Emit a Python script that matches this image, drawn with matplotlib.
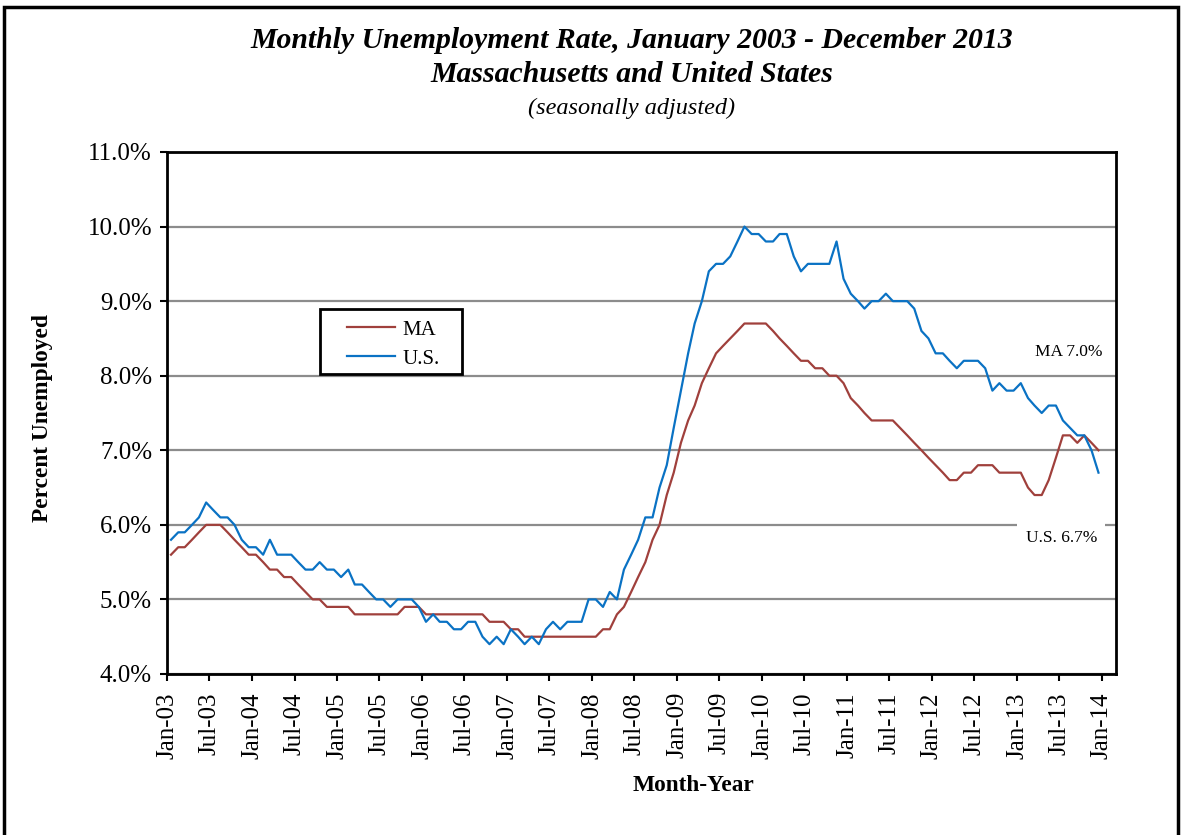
import matplotlib
matplotlib.use("Agg")
import matplotlib.pyplot as plt
import matplotlib.dates as mdates
from matplotlib.patches import Rectangle
import pandas as pd

plt.rcParams['font.family'] = ['Liberation Serif', 'DejaVu Serif']

# monthly rates, Jan 2003 - Dec 2013
ma = [5.6, 5.7, 5.7, 5.8, 5.9, 6.0, 6.0, 6.0, 5.9, 5.8, 5.7, 5.6,
      5.6, 5.5, 5.4, 5.4, 5.3, 5.3, 5.2, 5.1, 5.0, 5.0, 4.9, 4.9,
      4.9, 4.9, 4.8, 4.8, 4.8, 4.8, 4.8, 4.8, 4.8, 4.9, 4.9, 4.9,
      4.8, 4.8, 4.8, 4.8, 4.8, 4.8, 4.8, 4.8, 4.8, 4.7, 4.7, 4.7,
      4.6, 4.6, 4.5, 4.5, 4.5, 4.5, 4.5, 4.5, 4.5, 4.5, 4.5, 4.5,
      4.5, 4.6, 4.6, 4.8, 4.9, 5.1, 5.3, 5.5, 5.8, 6.0, 6.4, 6.7,
      7.1, 7.4, 7.6, 7.9, 8.1, 8.3, 8.4, 8.5, 8.6, 8.7, 8.7, 8.7,
      8.7, 8.6, 8.5, 8.4, 8.3, 8.2, 8.2, 8.1, 8.1, 8.0, 8.0, 7.9,
      7.7, 7.6, 7.5, 7.4, 7.4, 7.4, 7.4, 7.3, 7.2, 7.1, 7.0, 6.9,
      6.8, 6.7, 6.6, 6.6, 6.7, 6.7, 6.8, 6.8, 6.8, 6.7, 6.7, 6.7,
      6.7, 6.5, 6.4, 6.4, 6.6, 6.9, 7.2, 7.2, 7.1, 7.2, 7.1, 7.0]

us = [5.8, 5.9, 5.9, 6.0, 6.1, 6.3, 6.2, 6.1, 6.1, 6.0, 5.8, 5.7,
      5.7, 5.6, 5.8, 5.6, 5.6, 5.6, 5.5, 5.4, 5.4, 5.5, 5.4, 5.4,
      5.3, 5.4, 5.2, 5.2, 5.1, 5.0, 5.0, 4.9, 5.0, 5.0, 5.0, 4.9,
      4.7, 4.8, 4.7, 4.7, 4.6, 4.6, 4.7, 4.7, 4.5, 4.4, 4.5, 4.4,
      4.6, 4.5, 4.4, 4.5, 4.4, 4.6, 4.7, 4.6, 4.7, 4.7, 4.7, 5.0,
      5.0, 4.9, 5.1, 5.0, 5.4, 5.6, 5.8, 6.1, 6.1, 6.5, 6.8, 7.3,
      7.8, 8.3, 8.7, 9.0, 9.4, 9.5, 9.5, 9.6, 9.8, 10.0, 9.9, 9.9,
      9.8, 9.8, 9.9, 9.9, 9.6, 9.4, 9.5, 9.5, 9.5, 9.5, 9.8, 9.3,
      9.1, 9.0, 8.9, 9.0, 9.0, 9.1, 9.0, 9.0, 9.0, 8.9, 8.6, 8.5,
      8.3, 8.3, 8.2, 8.1, 8.2, 8.2, 8.2, 8.1, 7.8, 7.9, 7.8, 7.8,
      7.9, 7.7, 7.6, 7.5, 7.6, 7.6, 7.4, 7.3, 7.2, 7.2, 7.0, 6.7]

months = pd.date_range("2003-01-01", periods=len(ma), freq="MS") + pd.Timedelta(days=16)
ticks = pd.date_range("2003-01-01", "2014-01-01", freq="6MS")

W, H = 1182, 835
fig = plt.figure(figsize=(W / 100, H / 100), dpi=100)
ax = fig.add_axes([167.3 / W, 1 - 674 / H, (1115.7 - 167.3) / W, (674 - 152) / H])

ax.plot(months, ma, color="#A0403C", lw=1.6, label="MA")
ax.plot(months, us, color="#0A72C4", lw=1.6, label="U.S.")

ax.set_xlim(pd.Timestamp("2003-01-01"), pd.Timestamp("2014-03-01"))
ax.set_ylim(4, 11)
ax.set_yticks(range(4, 12))
ax.set_yticklabels([f"{v:.1f}%" for v in range(4, 12)])
ax.set_xticks(ticks)
ax.xaxis.set_major_formatter(mdates.DateFormatter("%b-%y"))
ax.tick_params(axis="x", rotation=90, labelsize=18, length=5, width=1.5, direction="out", pad=8)
ax.tick_params(axis="y", labelsize=18, length=5, width=1.5, direction="out", pad=6)
ax.grid(axis="y", color="#8c8c8c", lw=1.6)
ax.set_axisbelow(True)
for s in ax.spines.values():
    s.set_linewidth(2)
    s.set_color("black")

ax.set_ylabel("Percent Unemployed", fontsize=16.8, fontweight="bold")
ax.yaxis.set_label_coords((53 - 167.3) / 948.4, 0.49)
ax.set_xlabel("Month-Year", fontsize=16.8, fontweight="bold")
ax.xaxis.set_label_coords((693 - 167.3) / 948.4, (674 - 775) / 522)

ax.text(pd.Timestamp("2013-08-10"), 8.32, "MA 7.0%", fontsize=12.5, ha="center", va="center")
ax.text(pd.Timestamp("2013-07-10"), 5.83, "U.S. 6.7%", fontsize=12.5, ha="center", va="center",
        bbox=dict(facecolor="white", edgecolor="none", pad=6))

ax.add_patch(Rectangle((320 / W, 1 - 374 / H), 142 / W, 65 / H, transform=fig.transFigure,
                       facecolor="white", edgecolor="black", lw=2, zorder=4, clip_on=False))
leg = ax.legend(loc="upper left", bbox_to_anchor=(347 / W, 1 - 320 / H),
                bbox_transform=fig.transFigure, fontsize=15, frameon=False,
                handlelength=2.3, handletextpad=0.35, borderpad=0, labelspacing=0.45,
                borderaxespad=0)

fig.text(632 / W, 1 - 40 / H, "Monthly Unemployment Rate, January 2003 - December 2013",
         fontsize=21.4, fontweight="bold", style="italic", ha="center", va="center")
fig.text(632 / W, 1 - 75 / H, "Massachusetts and United States",
         fontsize=21.4, fontweight="bold", style="italic", ha="center", va="center")
fig.text(632 / W, 1 - 108 / H, "(seasonally adjusted)",
         fontsize=17.5, style="italic", ha="center", va="center")

fig.patches.append(Rectangle((4 / W, -0.05), 1174 / W, 1.05 - 7 / H, transform=fig.transFigure,
                             fill=False, edgecolor="black", lw=2.5))

fig.savefig("out.png", dpi=100)
